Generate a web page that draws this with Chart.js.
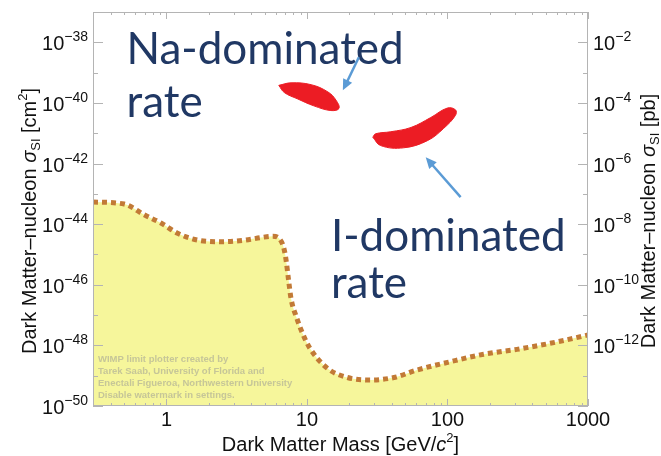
<!DOCTYPE html>
<html>
<head>
<meta charset="utf-8">
<script src="https://cdn.jsdelivr.net/npm/chart.js@4/dist/chart.umd.min.js"></script>
<style>
  html, body { margin: 0; padding: 0; background: #fff; }
</style>
</head>
<body>
<canvas id="chart" width="661" height="456"></canvas>
<script>
// tick labels
var massTicks = [1, 10, 100, 1000];
var cmExponents = [-38, -40, -42, -44, -46, -48, -50];
var pbExponents = [-2, -4, -6, -8, -10, -12];

// exclusion limit curve (GeV/c^2, cm^2)
var limitMass = [0.3, 0.5, 0.7, 0.92, 1.21, 1.68, 2.45, 3.6, 4.7, 5.7, 6.4, 6.85, 7.1, 7.4, 7.7, 8.4, 9.3, 10.5, 14, 19.4, 28.4, 41.6, 61, 105, 181, 312, 538, 1000];
var limitSigma = [5.4e-44, 4.6e-44, 2.0e-44, 1.07e-44, 4.9e-45, 2.95e-45, 2.63e-45, 2.95e-45, 3.6e-45, 4.0e-45, 3.2e-45, 1.6e-45, 6.5e-46, 1.4e-46, 3.5e-47, 8.7e-48, 2.5e-48, 8.0e-49, 1.74e-49, 8.7e-50, 7.2e-50, 8.7e-50, 1.55e-49, 2.9e-49, 5.1e-49, 7.4e-49, 1.17e-48, 2.2e-48];

// hand drawn regions
var naMass = [6.3, 7.7, 10.7, 14.1, 16.1, 16.9, 14.8, 11.2, 8.6, 6.9, 6.3];
var naSigma = [3.8e-40, 4.6e-40, 4.0e-40, 2.3e-40, 1.23e-40, 6.6e-41, 5.6e-41, 8.0e-41, 1.35e-40, 2.2e-40, 3.8e-40];
var iMass = [29.4, 33.5, 48.7, 72, 94, 114, 114, 100, 76, 55, 39.5, 30.8, 29.4];
var iSigma = [7.4e-42, 3.9e-42, 3.3e-42, 5.7e-42, 1.45e-41, 3.9e-41, 5.9e-41, 6.8e-41, 3.3e-41, 1.55e-41, 1.12e-41, 9.6e-42, 7.4e-42];

// annotations (data coordinates)
var naLines = ['Na-dominated', 'rate'];
var naLineMass = [0.52, 0.52];
var naLineSigma = [1.9e-39, 3.4e-41];
var iLines = ['I-dominated', 'rate'];
var iLineMass = [14.8, 14.8];
var iLineSigma = [1.3e-45, 3.6e-47];
var naArrow = [{ x: 23.4, y: 3.2e-39 }, { x: 18, y: 2.6e-40 }];
var iArrow = [{ x: 124, y: 7.8e-44 }, { x: 70, y: 1.6e-42 }];

var watermark = ['WIMP limit plotter created by', 'Tarek Saab, University of Florida and', 'Enectali Figueroa, Northwestern University', 'Disable watermark in settings.'];

var FONT = '"Liberation Sans", Arial, Helvetica, sans-serif';

function pts(xs, ys) {
  return xs.map(function (x, i) { return { x: x, y: ys[i] }; });
}

// draw a row of text pieces, pieces = [[text, font, dy], ...]
function drawParts(ctx, parts, x, y, align) {
  var total = 0;
  parts.forEach(function (p) { ctx.font = p[1]; total += ctx.measureText(p[0]).width; });
  var cx = align === 'right' ? x - total : (align === 'center' ? x - total / 2 : x);
  ctx.textAlign = 'left';
  parts.forEach(function (p) {
    ctx.font = p[1];
    ctx.fillText(p[0], cx, y + (p[2] || 0));
    cx += ctx.measureText(p[0]).width;
  });
}

function power(e) {
  return [['10', '20px ' + FONT, 0], ['\u2212' + Math.abs(e), '14px ' + FONT, -9]];
}

function arrow(ctx, x1, y1, x2, y2) {
  var a = Math.atan2(y2 - y1, x2 - x1);
  var head = 11;
  ctx.strokeStyle = '#5b9bd5';
  ctx.fillStyle = '#5b9bd5';
  ctx.lineWidth = 2.5;
  ctx.beginPath();
  ctx.moveTo(x1, y1);
  ctx.lineTo(x2 - head * 0.8 * Math.cos(a), y2 - head * 0.8 * Math.sin(a));
  ctx.stroke();
  ctx.beginPath();
  ctx.moveTo(x2, y2);
  ctx.lineTo(x2 - head * Math.cos(a) + 5 * Math.sin(a), y2 - head * Math.sin(a) - 5 * Math.cos(a));
  ctx.lineTo(x2 - head * Math.cos(a) - 5 * Math.sin(a), y2 - head * Math.sin(a) + 5 * Math.cos(a));
  ctx.closePath();
  ctx.fill();
}

var decor = {
  id: 'decor',
  afterDraw: function (chart) {
    var ctx = chart.ctx;
    var a = chart.chartArea;
    var x = chart.scales.x, y = chart.scales.y, y2 = chart.scales.y2;
    ctx.save();

    // watermark
    ctx.fillStyle = 'rgba(150,150,150,0.5)';
    ctx.font = 'bold 9.5px ' + FONT;
    ctx.textAlign = 'left';
    watermark.forEach(function (t, i) { ctx.fillText(t, a.left + 5, 362 + i * 12); });

    // frame and inward ticks
    ctx.strokeStyle = '#b4b4b4';
    ctx.lineWidth = 1;
    ctx.strokeRect(a.left + 0.5, a.top + 0.5, a.right - a.left - 1, a.bottom - a.top - 1);
    ctx.beginPath();
    for (var d = -1; d <= 3; d++) {
      for (var k = 1; k <= 9; k++) {
        var m = k * Math.pow(10, d);
        if (m < 0.3 || m > 1000) continue;
        var px = Math.round(x.getPixelForValue(m)) + 0.5;
        var len = k === 1 ? 7 : 3;
        ctx.moveTo(px, a.bottom); ctx.lineTo(px, a.bottom - len);
        ctx.moveTo(px, a.top); ctx.lineTo(px, a.top + len);
      }
    }
    for (var e = -50; e <= -37; e++) {
      var py = Math.round(y.getPixelForValue(Math.pow(10, e))) + 0.5;
      var l2 = e % 2 === 0 ? 10 : 5;
      ctx.moveTo(a.left, py); ctx.lineTo(a.left + l2, py);
      ctx.moveTo(a.right, py); ctx.lineTo(a.right - l2, py);
    }
    ctx.stroke();

    // tick labels
    ctx.fillStyle = '#111';
    ctx.textBaseline = 'alphabetic';
    cmExponents.forEach(function (e) {
      drawParts(ctx, power(e), a.left - 5, y.getPixelForValue(Math.pow(10, e)) + 8, 'right');
    });
    pbExponents.forEach(function (e) {
      drawParts(ctx, power(e), a.right + 5, y2.getPixelForValue(Math.pow(10, e)) + 8, 'left');
    });
    ctx.font = '20px ' + FONT;
    ctx.textAlign = 'center';
    massTicks.forEach(function (m) {
      ctx.fillText(String(m), x.getPixelForValue(m), a.bottom + 20);
    });

    // axis titles
    var f = '20px ' + FONT, fi = 'italic 20px ' + FONT, fs = '13px ' + FONT;
    drawParts(ctx, [['Dark Matter Mass [GeV/', f, 0], ['c', fi, 0], ['2', fs, -9], [']', f, 0]], (a.left + a.right) / 2, 451, 'center');
    var midY = (a.top + a.bottom) / 2 + 12;
    ctx.save();
    ctx.translate(36, midY);
    ctx.rotate(-Math.PI / 2);
    drawParts(ctx, [['Dark Matter\u2013nucleon ', f, 0], ['\u03c3', fi, 0], ['SI', fs, 4], [' [cm', f, 0], ['2', fs, -9], [']', f, 0]], 0, 0, 'center');
    ctx.restore();
    ctx.save();
    ctx.translate(655, midY);
    ctx.rotate(-Math.PI / 2);
    drawParts(ctx, [['Dark Matter\u2013nucleon ', f, 0], ['\u03c3', fi, 0], ['SI', fs, 4], [' [pb]', f, 0]], 0, 0, 'center');
    ctx.restore();

    // annotations
    ctx.fillStyle = '#203864';
    ctx.font = '44px Lato, "Open Sans", sans-serif';
    ctx.textAlign = 'left';
    naLines.forEach(function (t, i) {
      ctx.fillText(t, x.getPixelForValue(naLineMass[i]), y.getPixelForValue(naLineSigma[i]));
    });
    iLines.forEach(function (t, i) {
      ctx.fillText(t, x.getPixelForValue(iLineMass[i]), y.getPixelForValue(iLineSigma[i]));
    });
    [naArrow, iArrow].forEach(function (ar) {
      arrow(ctx, x.getPixelForValue(ar[0].x), y.getPixelForValue(ar[0].y),
        x.getPixelForValue(ar[1].x), y.getPixelForValue(ar[1].y));
    });
    ctx.restore();
  }
};

var ctx = document.getElementById('chart').getContext('2d');
var chart = new Chart(ctx, {
  type: 'line',
  data: {
    datasets: [{
      label: 'limit',
      data: pts(limitMass, limitSigma),
      borderColor: '#c27a36',
      borderWidth: 5,
      borderDash: [5, 4],
      backgroundColor: '#f6f69b',
      fill: 'start',
      pointRadius: 0,
      cubicInterpolationMode: 'monotone'
    }, {
      label: 'Na',
      data: pts(naMass, naSigma),
      borderColor: '#ec1c24',
      borderWidth: 1,
      backgroundColor: '#ec1c24',
      fill: 'shape',
      pointRadius: 0,
      tension: 0.4
    }, {
      label: 'I',
      data: pts(iMass, iSigma),
      borderColor: '#ec1c24',
      borderWidth: 1,
      backgroundColor: '#ec1c24',
      fill: 'shape',
      pointRadius: 0,
      tension: 0.4
    }]
  },
  options: {
    responsive: false,
    animation: false,
    devicePixelRatio: 1,
    layout: { padding: { top: 12 } },
    plugins: { legend: { display: false }, tooltip: { enabled: false } },
    scales: {
      x: {
        type: 'logarithmic', min: 0.3, max: 1000, position: 'bottom',
        ticks: { display: false }, grid: { display: false }, border: { display: false },
        afterFit: function (s) { s.height = 50; }
      },
      y: {
        type: 'logarithmic', min: 1e-50, max: 1e-37, position: 'left',
        ticks: { display: false }, grid: { display: false }, border: { display: false },
        afterFit: function (s) { s.width = 93; }
      },
      y2: {
        type: 'logarithmic', min: 1e-14, max: 1e-1, position: 'right',
        ticks: { display: false }, grid: { display: false }, border: { display: false },
        afterFit: function (s) { s.width = 73; }
      }
    }
  },
  plugins: [decor]
});
</script>
</body>
</html>
